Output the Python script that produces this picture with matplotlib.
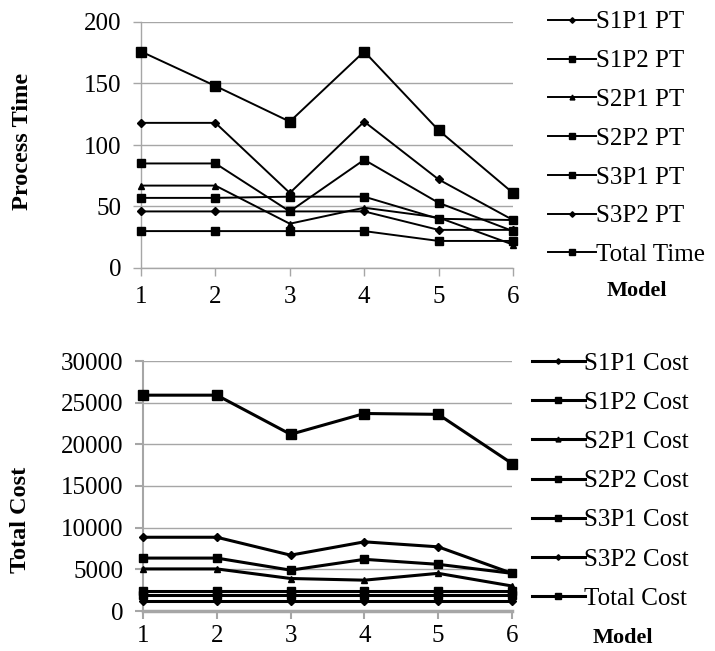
import matplotlib
matplotlib.use("Agg")
import matplotlib.pyplot as plt

plt.rcParams["font.family"] = ["Liberation Serif", "DejaVu Serif"]

models = [1, 2, 3, 4, 5, 6]

# process time series
s1p1_pt = [118, 118, 61, 119, 72, 39]
s1p2_pt = [85, 85, 46, 88, 53, 30]
s2p1_pt = [67, 67, 36, 49, 41, 19]
s2p2_pt = [57, 57, 58, 58, 40, 39]
s3p1_pt = [30, 30, 30, 30, 22, 22]
s3p2_pt = [46, 46, 46, 46, 31, 31]
total_time = [176, 148, 119, 176, 112, 61]

# cost series
s1p1_cost = [8850, 8850, 6700, 8300, 7700, 4520]
s1p2_cost = [6350, 6350, 4900, 6200, 5600, 4520]
s2p1_cost = [5050, 5050, 3900, 3700, 4520, 3000]
s2p2_cost = [2450, 2450, 2450, 2450, 2450, 2450]
s3p1_cost = [1900, 1900, 1900, 1900, 1900, 1900]
s3p2_cost = [1250, 1250, 1250, 1250, 1250, 1250]
total_cost = [25900, 25900, 21200, 23700, 23600, 17700]

pt_series = [
    ("S1P1 PT", s1p1_pt, "D", 4),
    ("S1P2 PT", s1p2_pt, "s", 6),
    ("S2P1 PT", s2p1_pt, "^", 5),
    ("S2P2 PT", s2p2_pt, "s", 6),
    ("S3P1 PT", s3p1_pt, "s", 6),
    ("S3P2 PT", s3p2_pt, "D", 4),
    ("Total Time", total_time, "s", 7),
]

cost_series = [
    ("S1P1 Cost", s1p1_cost, "D", 4),
    ("S1P2 Cost", s1p2_cost, "s", 6),
    ("S2P1 Cost", s2p1_cost, "^", 5),
    ("S2P2 Cost", s2p2_cost, "s", 6),
    ("S3P1 Cost", s3p1_cost, "s", 6),
    ("S3P2 Cost", s3p2_cost, "D", 4),
    ("Total Cost", total_cost, "s", 7),
]

W, H = 715, 651
fig = plt.figure(figsize=(W / 100, H / 100), dpi=100)
ax1 = fig.add_axes([141 / W, 1 - 268 / H, 372 / W, 246 / H])
ax2 = fig.add_axes([143 / W, 1 - 611 / H, 369 / W, 250 / H])

grid_col = "#a6a6a6"


def style_axis(ax, lw, bottom_lw, xpad):
    ax.set_xlim(1, 6)
    ax.set_xticks(models)
    ax.spines["top"].set_visible(False)
    ax.spines["right"].set_visible(False)
    ax.spines["left"].set_color(grid_col)
    ax.spines["bottom"].set_color(grid_col)
    ax.spines["left"].set_linewidth(lw)
    ax.spines["bottom"].set_linewidth(bottom_lw)
    ax.yaxis.grid(True, color=grid_col, linewidth=1.0)
    ax.set_axisbelow(True)
    ax.tick_params(axis="x", direction="out", length=6, color=grid_col,
                   width=lw, labelsize=18, pad=xpad)
    ax.tick_params(axis="y", direction="out", length=6, color=grid_col,
                   width=lw, labelsize=18, pad=8)
    for s in ax.spines.values():
        s.set_zorder(0.5)


for label, vals, mk, ms in pt_series:
    ax1.plot(models, vals, color="black", linewidth=1.4, marker=mk,
             markersize=ms, label=label, clip_on=False)
ax1.set_ylim(0, 200)
ax1.set_yticks([0, 50, 100, 150, 200])
style_axis(ax1, 1.0, 1.0, 7)
ax1.legend(loc="upper left", bbox_to_anchor=(548 / W, 1 - 11 / H),
           bbox_transform=fig.transFigure, frameon=False,
           fontsize=18, handlelength=1.9, handletextpad=0.0,
           labelspacing=0.65, borderaxespad=0, borderpad=0, markerscale=0.7)

for label, vals, mk, ms in cost_series:
    ax2.plot(models, vals, color="black", linewidth=2.2, marker=mk,
             markersize=ms, label=label, clip_on=False)
ax2.set_ylim(0, 30000)
ax2.set_yticks([0, 5000, 10000, 15000, 20000, 25000, 30000])
style_axis(ax2, 1.5, 2.5, 4)
ax2.legend(loc="upper left", bbox_to_anchor=(532 / W, 1 - 352 / H),
           bbox_transform=fig.transFigure, frameon=False,
           fontsize=18, handlelength=2.1, handletextpad=0.0,
           labelspacing=0.67, borderaxespad=0, borderpad=0, markerscale=0.7)

fig.text(23 / W, 1 - 141 / H, "Process Time", rotation=90, ha="center",
         va="center", fontsize=17.5, fontweight="bold")
fig.text(21 / W, 1 - 520 / H, "Total Cost", rotation=90, ha="center",
         va="center", fontsize=17.5, fontweight="bold")
fig.text(637 / W, 1 - 291 / H, "Model", ha="center", va="center",
         fontsize=16, fontweight="bold")
fig.text(623 / W, 1 - 638 / H, "Model", ha="center", va="center",
         fontsize=16, fontweight="bold")

fig.savefig("out.png", dpi=100, facecolor="white")
